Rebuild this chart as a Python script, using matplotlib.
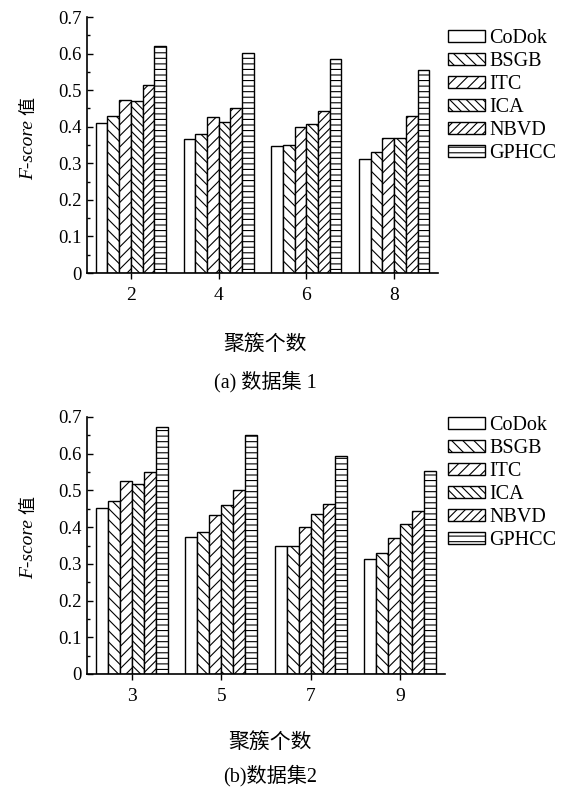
import numpy as np
from matplotlib import pyplot as plt
from matplotlib.ticker import MultipleLocator, FuncFormatter

# dados
metodos = ["CoDok", "BSGB", "ITC", "ICA", "NBVD", "GPHCC"]
hachuras = ["", "\\\\\\", "///", "\\\\\\\\", "////", "---"]

clusters1 = ["2", "4", "6", "8"]
codok1 = [0.410, 0.366, 0.347, 0.312]
bsgb1 = [0.430, 0.381, 0.350, 0.330]
itc1 = [0.472, 0.427, 0.399, 0.370]
ica1 = [0.470, 0.414, 0.408, 0.369]
nbvd1 = [0.514, 0.450, 0.443, 0.430]
gphcc1 = [0.622, 0.602, 0.585, 0.554]

clusters2 = ["3", "5", "7", "9"]
codok2 = [0.451, 0.372, 0.348, 0.313]
bsgb2 = [0.472, 0.386, 0.350, 0.330]
itc2 = [0.526, 0.432, 0.401, 0.370]
ica2 = [0.517, 0.461, 0.435, 0.409]
nbvd2 = [0.551, 0.501, 0.464, 0.444]
gphcc2 = [0.673, 0.652, 0.594, 0.553]

serif = ["Liberation Serif", "Noto Sans CJK SC"]
plt.rcParams["font.family"] = serif
plt.rcParams["hatch.linewidth"] = 0.8

W, H = 572, 790
fig = plt.figure(figsize=(W / 100, H / 100), dpi=100)


def px(x, y):
    return x / W, 1 - y / H


def painel(rect, rotulos, series, leg_y, eixo_x_y, xlabel_y, sub_y, subtitulo, xc):
    ax = fig.add_axes(rect)
    x = np.arange(len(rotulos))
    largura = 0.8 / len(series)
    for i, (vals, h, nome) in enumerate(zip(series, hachuras, metodos)):
        pos = x - 0.4 + largura * (i + 0.5)
        ax.bar(pos, vals, largura, color="white", edgecolor="black",
               hatch=h, linewidth=1.0, label=nome)
    ax.set_xlim(-0.5, len(rotulos) - 0.5)
    ax.set_ylim(0, 0.7)
    ax.set_xticks(x)
    ax.set_xticklabels(rotulos)
    ax.yaxis.set_major_locator(MultipleLocator(0.1))
    ax.yaxis.set_minor_locator(MultipleLocator(0.05))
    ax.yaxis.set_major_formatter(FuncFormatter(lambda v, p: "0" if abs(v) < 1e-9 else "%.1f" % v))
    ax.tick_params(axis="y", which="major", direction="in", length=4, width=1, labelsize=13.5, pad=4)
    ax.tick_params(axis="y", which="minor", direction="in", length=2.5, width=1)
    ax.tick_params(axis="x", direction="out", length=4, width=1, labelsize=14, pad=6)
    ax.spines["top"].set_visible(False)
    ax.spines["right"].set_visible(False)
    ax.spines["left"].set_linewidth(1.2)
    ax.spines["bottom"].set_linewidth(1.2)

    ax.legend(loc="upper left", bbox_to_anchor=px(448, leg_y), bbox_transform=fig.transFigure,
              frameon=False, fontsize=14.5, borderpad=0, borderaxespad=0,
              labelspacing=0.2, handlelength=1.85, handleheight=0.6, handletextpad=0.2)

    # rótulo do eixo y: "F-score" em itálico + "值"
    fig.text(*px(29, eixo_x_y + 2), "F-score", rotation=90, style="italic",
             fontsize=14, ha="center", va="top", family=serif)
    fig.text(*px(29, eixo_x_y - 3), "值", rotation=90, fontsize=13,
             ha="center", va="bottom", family=serif)

    fig.text(*px(xc, xlabel_y), "聚簇个数", fontsize=15, ha="center", va="center", family=serif)
    fig.text(*px(xc, sub_y), subtitulo, fontsize=14.5, ha="center", va="center", family=serif)
    return ax


painel([87 / W, 1 - 273 / H, (438 - 87) / W, (273 - 17) / H], clusters1,
       [codok1, bsgb1, itc1, ica1, nbvd1, gphcc1],
       leg_y=29, eixo_x_y=118, xlabel_y=345, sub_y=382, subtitulo="(a) 数据集 1", xc=265)

painel([87 / W, 1 - 674 / H, (445 - 87) / W, (674 - 417) / H], clusters2,
       [codok2, bsgb2, itc2, ica2, nbvd2, gphcc2],
       leg_y=416, eixo_x_y=517, xlabel_y=743, sub_y=776, subtitulo="(b)数据集2", xc=270)

plt.savefig("out.png", dpi=100)
